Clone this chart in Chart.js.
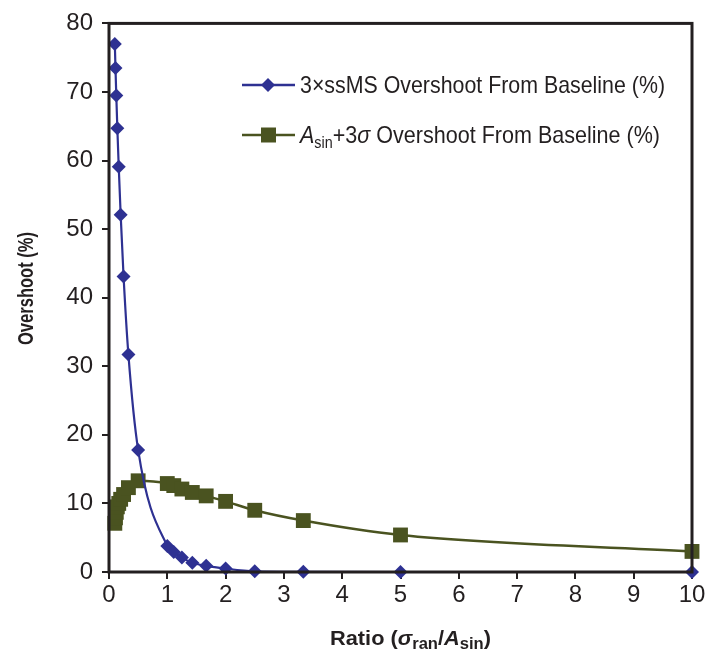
<!DOCTYPE html>
<html>
<head>
<meta charset="utf-8">
<script src="https://cdn.jsdelivr.net/npm/chart.js@4.4.0/dist/chart.umd.min.js"></script>
<style>
  html, body { margin: 0; padding: 0; background: #fff; }
  #wrap { width: 706px; height: 653px; }
</style>
</head>
<body>
<div id="wrap"><canvas id="overshootChart" width="706" height="653"></canvas></div>
<script>
// ratio sigma_ran / A_sin
const ratios = [0.1, 0.111, 0.125, 0.143, 0.167, 0.2, 0.25, 0.333, 0.5, 1, 1.111, 1.25, 1.429, 1.667, 2, 2.5, 3.333, 5, 10];
// 3 x ssMS overshoot from baseline (%)
const ssmsOvershoot = [77, 73.5, 69.5, 64.7, 59.1, 52.1, 43.1, 31.7, 17.8, 3.8, 2.9, 2.1, 1.35, 0.9, 0.5, 0.1, 0.02, 0, 0];
// A_sin + 3 sigma overshoot from baseline (%)
const sigmaOvershoot = [7.1, 7.9, 8.7, 9.5, 10.0, 10.6, 11.3, 12.3, 13.3, 12.9, 12.6, 12.1, 11.6, 11.1, 10.3, 9.0, 7.5, 5.4, 3.0];

const xMin = 0, xMax = 10, xStep = 1;
const yMin = 0, yMax = 80, yStep = 10;

const BLUE = "#2e3192";
const OLIVE = "#4a5320";
const INK = "#231f20";
const FONT = "'Liberation Sans', Arial, sans-serif";

function toPoints(xs, ys) {
  return xs.map((x, i) => ({ x: x, y: ys[i] }));
}

function runsWidth(ctx, runs) {
  let w = 0;
  runs.forEach(r => {
    ctx.font = r.font;
    w += ctx.measureText(r.text).width;
  });
  return w;
}

// draws mixed-font text squeezed/stretched to a given width, starting at x
function drawRuns(ctx, runs, x, y, width) {
  const natural = runsWidth(ctx, runs);
  const sx = width ? width / natural : 1;
  ctx.save();
  ctx.translate(x, y);
  ctx.scale(sx, 1);
  let cx = 0;
  runs.forEach(r => {
    ctx.font = r.font;
    ctx.fillText(r.text, cx, r.dy || 0);
    cx += ctx.measureText(r.text).width;
  });
  ctx.restore();
}

// frame, axis titles and the legend (needs subscripts so drawn by hand)
const decorations = {
  id: "decorations",
  afterDatasetsDraw(chart) {
    const ctx = chart.ctx;
    const a = chart.chartArea;
    ctx.save();
    ctx.strokeStyle = INK;
    ctx.lineWidth = 3;
    ctx.strokeRect(a.left, a.top, a.right - a.left, a.bottom - a.top);
    ctx.restore();
  },
  afterDraw(chart) {
    const ctx = chart.ctx;
    ctx.save();
    ctx.fillStyle = INK;
    ctx.textBaseline = "alphabetic";
    ctx.textAlign = "left";

    // x title
    const B = "bold 21px " + FONT;
    const BI = "italic bold 21px " + FONT;
    const BS = "bold 16px " + FONT;
    const xTitle = [
      { text: "Ratio (", font: B },
      { text: "σ", font: BI },
      { text: "ran", font: BS, dy: 4 },
      { text: "/", font: B },
      { text: "A", font: BI },
      { text: "sin", font: BS, dy: 4 },
      { text: ")", font: B }
    ];
    drawRuns(ctx, xTitle, 330, 645, 161);

    // y title
    ctx.save();
    ctx.translate(33, 345);
    ctx.rotate(-Math.PI / 2);
    drawRuns(ctx, [{ text: "Overshoot (%)", font: "bold 22px " + FONT }], 0, 0, 113);
    ctx.restore();

    // legend
    const R = "24px " + FONT;
    const RI = "italic 24px " + FONT;
    const RS = "16px " + FONT;
    const rows = [
      { y: 85, color: BLUE, marker: "diamond", width: 365,
        runs: [{ text: "3×ssMS Overshoot From Baseline (%)", font: R }] },
      { y: 135, color: OLIVE, marker: "square", width: 360,
        runs: [
          { text: "A", font: RI },
          { text: "sin", font: RS, dy: 5 },
          { text: "+3", font: R },
          { text: "σ", font: RI },
          { text: " Overshoot From Baseline (%)", font: R }
        ] }
    ];
    rows.forEach(row => {
      ctx.strokeStyle = row.color;
      ctx.lineWidth = 2.5;
      ctx.beginPath();
      ctx.moveTo(242, row.y);
      ctx.lineTo(295, row.y);
      ctx.stroke();
      ctx.fillStyle = row.color;
      ctx.beginPath();
      if (row.marker === "diamond") {
        ctx.moveTo(268, row.y - 7);
        ctx.lineTo(275, row.y);
        ctx.lineTo(268, row.y + 7);
        ctx.lineTo(261, row.y);
        ctx.closePath();
      } else {
        ctx.rect(261, row.y - 7.5, 15, 15);
      }
      ctx.fill();
      ctx.fillStyle = INK;
      drawRuns(ctx, row.runs, 300, row.y + 8, row.width);
    });
    ctx.restore();
  }
};

const chart = new Chart(document.getElementById("overshootChart"), {
  type: "line",
  data: {
    datasets: [
      {
        label: "3×ssMS Overshoot From Baseline (%)",
        data: toPoints(ratios, ssmsOvershoot),
        borderColor: BLUE,
        backgroundColor: BLUE,
        borderWidth: 2.2,
        pointStyle: "rectRot",
        pointRadius: 7,
        pointBorderWidth: 0,
        cubicInterpolationMode: "monotone",
        clip: false
      },
      {
        label: "Asin+3σ Overshoot From Baseline (%)",
        data: toPoints(ratios, sigmaOvershoot),
        borderColor: OLIVE,
        backgroundColor: OLIVE,
        borderWidth: 2.5,
        pointStyle: "rect",
        pointRadius: 10.5,
        pointBorderWidth: 0,
        cubicInterpolationMode: "monotone",
        clip: false
      }
    ]
  },
  options: {
    responsive: false,
    animation: false,
    devicePixelRatio: 1,
    layout: { padding: { left: 0, top: 22, right: 14, bottom: 0 } },
    plugins: {
      legend: { display: false },
      tooltip: { enabled: false }
    },
    scales: {
      x: {
        type: "linear",
        min: xMin,
        max: xMax,
        afterFit: s => { s.height = 81; s.paddingRight = 0; s.paddingLeft = 0; },
        ticks: { stepSize: xStep, color: INK, font: { family: FONT, size: 24 }, padding: 2 },
        grid: { drawOnChartArea: false, drawTicks: true, tickLength: 7, color: INK, lineWidth: 2 },
        border: { display: false }
      },
      y: {
        type: "linear",
        min: yMin,
        max: yMax,
        afterFit: s => { s.width = 109; },
        ticks: { stepSize: yStep, color: INK, font: { family: FONT, size: 24 }, padding: 9 },
        grid: { drawOnChartArea: false, drawTicks: true, tickLength: 7, color: INK, lineWidth: 2 },
        border: { display: false }
      }
    }
  },
  plugins: [decorations]
});
</script>
</body>
</html>
